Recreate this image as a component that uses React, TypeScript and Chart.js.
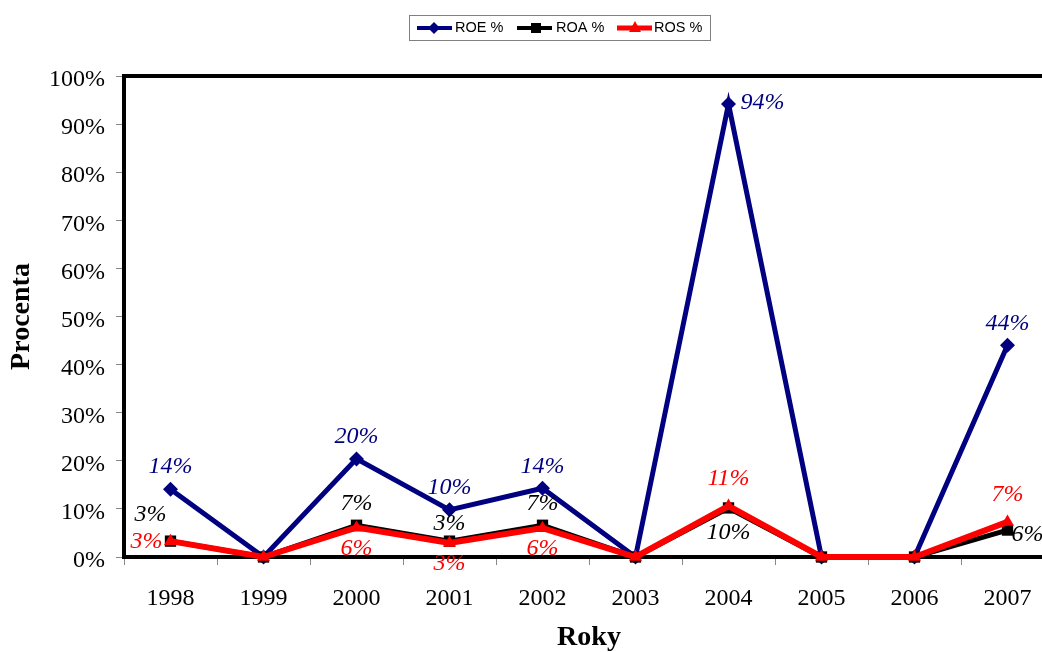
import React, { useEffect, useRef } from "react";
import { Chart, registerables } from "chart.js";

Chart.register(...registerables);

const years = ["1998", "1999", "2000", "2001", "2002", "2003", "2004", "2005", "2006", "2007"];
const roe = [14.1, 0, 20.4, 9.8, 14.3, 0, 94.2, 0, 0, 44.0];
const roa = [3.3, 0, 6.6, 3.3, 6.6, 0, 10.2, 0, 0, 5.6];
const ros = [3.3, 0, 6.1, 2.9, 6.0, 0, 10.6, 0, 0, 7.3];
const yTicksMin = 0;
const yTicksMax = 100;
const yTickStep = 10;

// label placement hints per point
const roePos = ["above", "", "above", "above", "above", "", "right", "", "", "above"];
const roaPos = ["aboveLeft", "", "above", "aboveNear", "above", "", "belowFar", "", "", "rightNear"];
const rosPos = ["left", "", "below", "below", "below", "", "aboveFar", "", "", "aboveFar"];

const W = 1080;
const H = 652;
const LEFT = 124;
const TOP = 76;
const BOTTOM = 557;
const RIGHT = 1054;

const SERIF = "'Liberation Serif', 'Times New Roman', serif";
const SANS = "'Liberation Sans', Arial, sans-serif";

const offsets: Record<string, [number, number, CanvasTextAlign]> = {
  above: [0, -22, "center"],
  aboveNear: [0, -17, "center"],
  aboveFar: [0, -27, "center"],
  below: [0, 21, "center"],
  belowFar: [0, 25, "center"],
  left: [-8, 1, "right"],
  right: [12, -1, "left"],
  rightNear: [4, 5, "left"],
  aboveLeft: [-20, -26, "center"],
};

const labelPlugin = {
  id: "customLabels",
  beforeDatasetsDraw(chart: any) {
    const ctx = chart.ctx;
    const a = chart.chartArea;
    ctx.save();
    ctx.strokeStyle = "#000";
    ctx.lineWidth = 4;
    ctx.strokeRect(a.left, a.top, a.right - a.left, a.bottom - a.top);
    ctx.restore();
  },
  afterDraw(chart: any) {
    const ctx = chart.ctx;
    const a = chart.chartArea;
    ctx.save();
    // data labels
    ctx.font = `italic 24px ${SERIF}`;
    ctx.textBaseline = "middle";
    chart.data.datasets.forEach((ds: any, di: number) => {
      const meta = chart.getDatasetMeta(di);
      const pos: string[] = ds.labelPos;
      ds.data.forEach((v: number, i: number) => {
        if (!v || !pos[i]) return;
        const el = meta.data[i];
        const [dx, dy, align] = offsets[pos[i]];
        ctx.textAlign = align;
        ctx.fillStyle = ds.labelColor;
        ctx.fillText(Math.round(v) + "%", el.x + dx, el.y + dy);
      });
    });
    // axis titles
    ctx.fillStyle = "#000";
    ctx.font = `bold 28px ${SERIF}`;
    ctx.textAlign = "center";
    ctx.textBaseline = "middle";
    ctx.fillText("Roky", (a.left + a.right) / 2, 638);
    ctx.save();
    ctx.translate(22, (a.top + a.bottom) / 2);
    ctx.rotate(-Math.PI / 2);
    ctx.fillText("Procenta", 0, 0);
    ctx.restore();
    // legend
    ctx.fillStyle = "#fff";
    ctx.fillRect(409.5, 15.5, 301, 25);
    ctx.strokeStyle = "#808080";
    ctx.lineWidth = 1;
    ctx.strokeRect(409.5, 15.5, 301, 25);
    const items = [
      { x0: 417, x1: 452, mx: 434, tx: 455, color: "#000080", text: "ROE %", shape: "diamond", lw: 4 },
      { x0: 517, x1: 552, mx: 536, tx: 556, color: "#000000", text: "ROA %", shape: "square", lw: 4 },
      { x0: 617, x1: 652, mx: 635, tx: 654, color: "#FF0000", text: "ROS %", shape: "triangle", lw: 5 },
    ];
    const ly = 28;
    items.forEach((it) => {
      ctx.strokeStyle = it.color;
      ctx.fillStyle = it.color;
      ctx.lineWidth = it.lw;
      ctx.beginPath();
      ctx.moveTo(it.x0, ly);
      ctx.lineTo(it.x1, ly);
      ctx.stroke();
      ctx.beginPath();
      if (it.shape === "diamond") {
        ctx.moveTo(it.mx, ly - 6);
        ctx.lineTo(it.mx + 6, ly);
        ctx.lineTo(it.mx, ly + 6);
        ctx.lineTo(it.mx - 6, ly);
      } else if (it.shape === "square") {
        ctx.rect(it.mx - 5, ly - 5, 10, 10);
      } else {
        ctx.moveTo(it.mx, ly - 7);
        ctx.lineTo(it.mx + 6, ly + 4);
        ctx.lineTo(it.mx - 6, ly + 4);
      }
      ctx.closePath();
      ctx.fill();
      ctx.fillStyle = "#000";
      ctx.font = `14.5px ${SANS}`;
      ctx.textAlign = "left";
      ctx.textBaseline = "middle";
      ctx.fillText(it.text, it.tx, ly);
    });
    ctx.restore();
  },
};

export default function App() {
  const ref = useRef<HTMLCanvasElement | null>(null);
  useEffect(() => {
    if (!ref.current) return;
    const chart = new Chart(ref.current, {
      type: "line",
      data: {
        labels: years,
        datasets: [
          {
            label: "ROE %",
            data: roe,
            borderColor: "#000080",
            backgroundColor: "#000080",
            borderWidth: 5,
            pointStyle: "rectRot",
            pointRadius: 7.5,
            pointBorderWidth: 0,
            tension: 0,
            clip: false,
            order: 3,
            labelPos: roePos,
            labelColor: "#000080",
          } as any,
          {
            label: "ROA %",
            data: roa,
            borderColor: "#000000",
            backgroundColor: "#000000",
            borderWidth: 5,
            pointStyle: "rect",
            pointRadius: 8,
            pointBorderWidth: 0,
            tension: 0,
            clip: false,
            order: 2,
            labelPos: roaPos,
            labelColor: "#000000",
          } as any,
          {
            label: "ROS %",
            data: ros,
            borderColor: "#FF0000",
            backgroundColor: "#FF0000",
            borderWidth: 6,
            pointStyle: "triangle",
            pointRadius: 7.5,
            pointBorderWidth: 0,
            tension: 0,
            clip: false,
            order: 1,
            labelPos: rosPos,
            labelColor: "#FF0000",
          } as any,
        ],
      },
      options: {
        responsive: false,
        animation: false,
        devicePixelRatio: 1,
        layout: { padding: { left: 0, top: TOP, right: W - RIGHT, bottom: 0 } },
        plugins: { legend: { display: false }, tooltip: { enabled: false } },
        scales: {
          x: {
            type: "category",
            offset: true,
            grid: { offset: true, drawOnChartArea: false, drawTicks: true, tickLength: 8, color: "#888", lineWidth: 1 },
            border: { display: false },
            ticks: { color: "#000", font: { family: SERIF, size: 24 }, padding: 19, maxRotation: 0, autoSkip: false },
            afterFit: (s: any) => {
              s.height = H - BOTTOM;
            },
          },
          y: {
            min: yTicksMin,
            max: yTicksMax,
            grid: { drawOnChartArea: false, drawTicks: true, tickLength: 8, color: "#888", lineWidth: 1 },
            border: { display: false },
            ticks: {
              stepSize: yTickStep,
              color: "#000",
              font: { family: SERIF, size: 24 },
              padding: 11,
              labelOffset: 4,
              callback: (v: any) => v + "%",
            },
            afterFit: (s: any) => {
              s.width = LEFT;
            },
          },
        },
      } as any,
      plugins: [labelPlugin],
    });
    return () => chart.destroy();
  }, []);
  return (
    <div style={{ position: "fixed", left: 0, top: 0, width: 1042, height: 652, overflow: "hidden", background: "#fff" }}>
      <canvas ref={ref} width={W} height={H} style={{ width: W, height: H, display: "block" }} />
    </div>
  );
}
